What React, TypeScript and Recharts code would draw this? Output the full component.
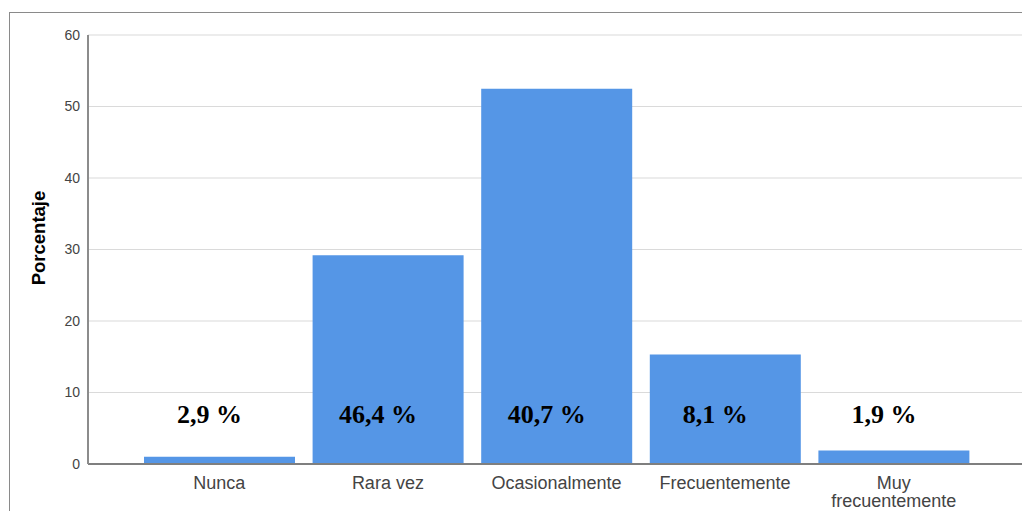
import React from "react";
import { BarChart, Bar, XAxis, YAxis, CartesianGrid, LabelList } from "recharts";

// Frequency categories and the percentage of respondents in each
const categories = ["Nunca", "Rara vez", "Ocasionalmente", "Frecuentemente", "Muy frecuentemente"];
const percentValues = [1.0, 29.2, 52.5, 15.3, 1.9];
// Annotation text written over each category
const shareLabels = ["2,9 %", "46,4 %", "40,7 %", "8,1 %", "1,9 %"];
const yTicks = [0, 10, 20, 30, 40, 50, 60];

const data = categories.map((category, i) => ({
  category,
  percent: percentValues[i],
  share: shareLabels[i],
}));

const W = 1022;
const H = 511;
const BAR_COLOR = "#5596e6";

// Greedy word wrap by character count
const wrapLabel = (label: string, maxChars: number): string[] => {
  const lines: string[] = [];
  let current = "";
  for (const word of label.split(" ")) {
    const candidate = current ? `${current} ${word}` : word;
    if (candidate.length > maxChars && current) {
      lines.push(current);
      current = word;
    } else {
      current = candidate;
    }
  }
  if (current) lines.push(current);
  return lines;
};

const CategoryTick = (props: any) => {
  const { x, y, payload } = props;
  const lines = wrapLabel(String(payload.value), 15);
  return (
    <text
      x={x}
      y={y + 17}
      textAnchor="middle"
      fontSize={18}
      fontFamily="'Liberation Sans', Arial, sans-serif"
      fill="#444"
    >
      {lines.map((line, i) => (
        <tspan key={i} x={x} dy={i === 0 ? 0 : 18}>
          {line}
        </tspan>
      ))}
    </text>
  );
};

const ShareLabel = (props: any) => {
  const { x, y, width, height, value } = props;
  const cx = Number(x) + Number(width) / 2 - 10;
  const baseline = Number(y) + Number(height) - 41;
  return (
    <text
      x={cx}
      y={baseline}
      textAnchor="middle"
      fontFamily="'Liberation Serif', 'Times New Roman', serif"
      fontWeight="bold"
      fontSize={26}
      fill="#000"
    >
      {value}
    </text>
  );
};

const AxisTitle = (props: any) => {
  const vb = props.viewBox || { x: 0, y: 0 };
  const tx = vb.x + 45;
  const ty = vb.y + 203;
  return (
    <text
      x={0}
      y={0}
      transform={`translate(${tx},${ty}) rotate(-90)`}
      textAnchor="middle"
      fontFamily="'Liberation Sans', Arial, sans-serif"
      fontWeight="bold"
      fontSize={18.5}
      fill="#000"
    >
      Porcentaje
    </text>
  );
};

export default function App() {
  return (
    <div style={{ position: "absolute", left: 0, top: 0, width: W, height: H, background: "#fff", overflow: "hidden" }}>
      <div
        style={{
          position: "absolute",
          left: 9,
          top: 12,
          width: W,
          height: H,
          borderLeft: "1px solid #8a8a8a",
          borderTop: "1px solid #8a8a8a",
        }}
      />
      <div style={{ position: "absolute", left: 0, top: 0 }}>
        <BarChart
          width={W}
          height={H}
          data={data}
          margin={{ top: 35, right: 0, bottom: 0, left: 0 }}
          barSize={151}
        >
          <CartesianGrid vertical={false} stroke="#dadada" strokeWidth={1.2} />
          <XAxis
            dataKey="category"
            interval={0}
            height={47}
            padding={{ left: 47, right: 44 }}
            axisLine={{ stroke: "#7f7f7f", strokeWidth: 2 }}
            tickLine={false}
            tick={<CategoryTick />}
          />
          <YAxis
            domain={[0, 60]}
            ticks={yTicks}
            width={88}
            axisLine={{ stroke: "#8c8c8c", strokeWidth: 2 }}
            tickLine={false}
            tick={{ fontSize: 14, fill: "#444", fontFamily: "'Liberation Sans', Arial, sans-serif" }}
            label={<AxisTitle />}
          />
          <Bar dataKey="percent" fill={BAR_COLOR} isAnimationActive={false}>
            <LabelList dataKey="share" content={<ShareLabel />} />
          </Bar>
        </BarChart>
      </div>
    </div>
  );
}
